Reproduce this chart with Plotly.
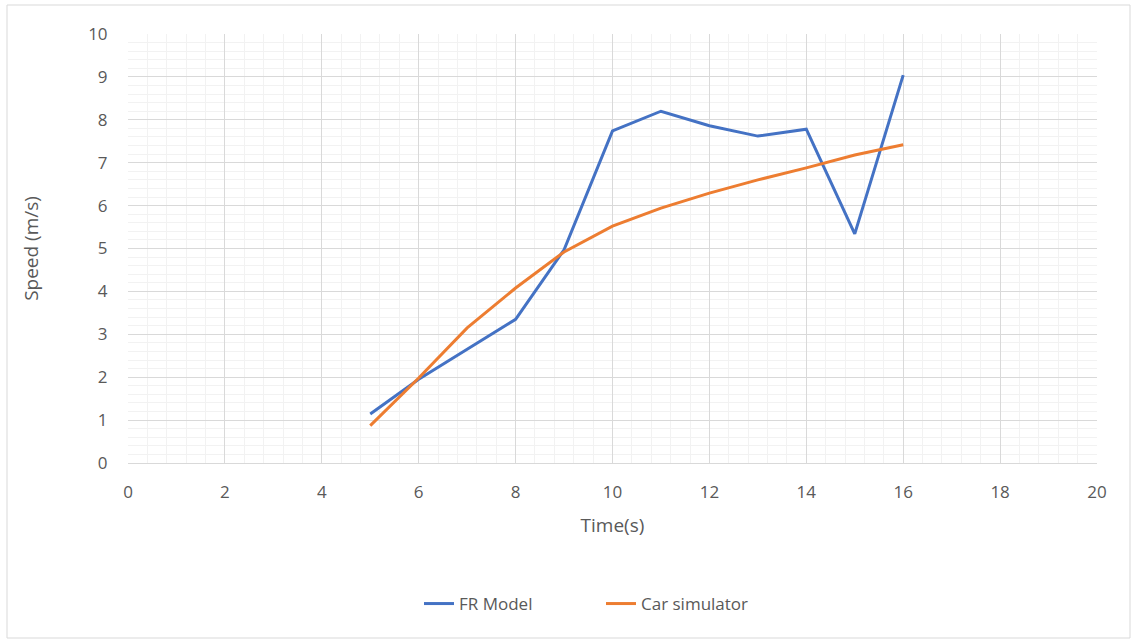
import plotly.graph_objects as go

time_s = [5, 6, 7, 8, 9, 10, 11, 12, 13, 14, 15, 16]
fr_model = [1.14, 1.95, 2.65, 3.35, 4.97, 7.74, 8.2, 7.86, 7.62, 7.78, 5.34, 9.04]
car_sim = [0.87, 1.98, 3.15, 4.08, 4.92, 5.52, 5.94, 6.29, 6.6, 6.88, 7.18, 7.42]

FONT = "Open Sans, Liberation Sans, sans-serif"
GRAY = "#595959"

fig = go.Figure()
fig.add_trace(go.Scatter(x=time_s, y=fr_model, mode="lines", name="FR Model",
                         line=dict(color="#4472C4", width=3)))
fig.add_trace(go.Scatter(x=time_s, y=car_sim, mode="lines", name="Car simulator",
                         line=dict(color="#ED7D31", width=3)))

L, R, T, B = 128, 35, 34, 177
W, H = 1132, 640
pw, ph = W - L - R, H - T - B

fig.update_layout(
    width=W, height=H,
    margin=dict(l=L, r=R, t=T, b=B),
    paper_bgcolor="white", plot_bgcolor="white",
    font=dict(family=FONT, color=GRAY, size=16),
    showlegend=True,
    legend=dict(orientation="h", x=(601 - L) / pw, xanchor="center",
                y=(T + ph - 604) / ph, yanchor="middle",
                entrywidth=137, entrywidthmode="pixels",
                font=dict(size=17, color=GRAY)),
    xaxis=dict(range=[0, 20], dtick=2, tick0=0, showgrid=True, gridcolor="#d9d9d9",
               gridwidth=1, zeroline=False, showline=True, linecolor="#d9d9d9",
               linewidth=1, ticks="outside", ticklen=14, tickcolor="rgba(0,0,0,0)",
               minor=dict(dtick=0.4, showgrid=True, gridcolor="#f2f2f2", gridwidth=1),
               title=dict(text="Time(s)", font=dict(size=19, color=GRAY), standoff=16),
               tickfont=dict(size=17, color=GRAY)),
    yaxis=dict(range=[0, 10], dtick=1, tick0=0, showgrid=True, gridcolor="#d9d9d9",
               gridwidth=1, zeroline=False, showline=False,
               ticks="outside", ticklen=16, tickcolor="rgba(0,0,0,0)",
               minor=dict(dtick=0.2, showgrid=True, gridcolor="#f2f2f2", gridwidth=1),
               title=dict(text="Speed (m/s)", font=dict(size=19, color=GRAY), standoff=44),
               tickfont=dict(size=17, color=GRAY)),
    shapes=[dict(type="rect", xref="paper", yref="paper",
                 x0=(7 - L) / pw, x1=(1130 - L) / pw,
                 y0=(T + ph - 638) / ph, y1=(T + ph - 5) / ph,
                 line=dict(color="#d9d9d9", width=1), fillcolor="rgba(0,0,0,0)",
                 layer="below")],
)

fig.write_html("out.html", config={"displayModeBar": False},
               post_script="document.body.style.margin='0';")
